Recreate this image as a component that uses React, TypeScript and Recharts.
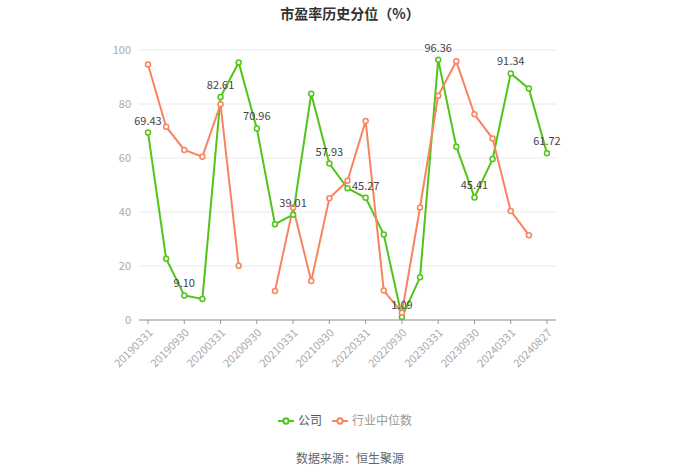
import * as React from "react";
import { LineChart, Line, XAxis, YAxis, CartesianGrid, Legend } from "recharts";

// ----- Data -----
const dates = [
  "20190331", "20190630", "20190930", "20191231",
  "20200331", "20200630", "20200930", "20201231",
  "20210331", "20210630", "20210930", "20211231",
  "20220331", "20220630", "20220930", "20221231",
  "20230331", "20230630", "20230930", "20231231",
  "20240331", "20240630", "20240827",
];

const company: number[] = [
  69.43, 22.7, 9.1, 7.8, 82.61, 95.4, 70.96, 35.5, 39.01, 83.8, 57.93, 48.8,
  45.27, 31.7, 1.09, 15.8, 96.36, 64.2, 45.41, 59.6, 91.34, 85.7, 61.72,
];

const industry: (number | null)[] = [
  94.6, 71.6, 63.0, 60.5, 79.9, 20.1, null, 10.7, 41.7, 14.4, 45.1, 51.6,
  73.7, 10.9, 2.7, 41.7, 83.1, 95.8, 76.2, 67.2, 40.4, 31.4, null,
];

const yTicks = [0, 20, 40, 60, 80, 100];

const chartData = dates.map((d, i) => ({
  date: d,
  company: company[i],
  industry: industry[i],
}));

const GREEN = "#52c41a";
const ORANGE = "#f7845e";

// value labels on every other point of the company line
const renderLabel = (props: any) => {
  const { x, y, index, value } = props;
  if (index % 2 !== 0 || value == null) return null;
  return (
    <text x={x} y={y - 8} textAnchor="middle" fontSize={11} fill="#444">
      {Number(value).toFixed(2)}
    </text>
  );
};

const legendFormatter = (value: string, entry: any) => (
  <span style={{ color: entry.dataKey === "industry" ? "#999" : "#555", fontSize: 12 }}>{value}</span>
);

export default function App() {
  return (
    <div style={{ position: "absolute", left: 0, top: 0, width: 700, height: 474, fontFamily: "'Noto Sans CJK SC', sans-serif", background: "#fff" }}>
      <div style={{ position: "absolute", top: 3, width: 700, textAlign: "center", fontSize: 14, fontWeight: "bold", color: "#333" }}>
        市盈率历史分位（%）
      </div>
      <LineChart width={700} height={474} data={chartData} margin={{ top: 50, right: 144, left: 0, bottom: 74 }}>
        <CartesianGrid vertical={false} stroke="#e8e8e8" />
        <XAxis
          dataKey="date"
          interval={1}
          padding={{ left: 9, right: 9 }}
          height={80}
          stroke="#999"
          tickSize={4}
          tick={{ fontSize: 11, fill: "#aaa", angle: -45, textAnchor: "end", dy: 2 }}
        />
        <YAxis
          width={139}
          domain={[0, 100]}
          ticks={yTicks}
          axisLine={false}
          tickLine={false}
          tick={{ fontSize: 11, fill: "#aaa" }}
        />
        <Legend
          verticalAlign="middle"
          align="center"
          layout="horizontal"
          iconType="line"
          iconSize={16}
          formatter={legendFormatter}
          wrapperStyle={{ top: 406, left: 0, width: 700 }}
        />
        <Line
          dataKey="company"
          name="公司"
          stroke={GREEN}
          strokeWidth={2}
          dot={{ r: 2.5, fill: "#fff", stroke: GREEN, strokeWidth: 1.5 }}
          activeDot={false}
          label={renderLabel}
          isAnimationActive={false}
        />
        <Line
          dataKey="industry"
          name="行业中位数"
          stroke={ORANGE}
          strokeWidth={2}
          dot={{ r: 2.5, fill: "#fff", stroke: ORANGE, strokeWidth: 1.5 }}
          activeDot={false}
          isAnimationActive={false}
        />
      </LineChart>
      <div style={{ position: "absolute", top: 449, width: 700, textAlign: "center", fontSize: 12, color: "#666" }}>
        数据来源：恒生聚源
      </div>
    </div>
  );
}
